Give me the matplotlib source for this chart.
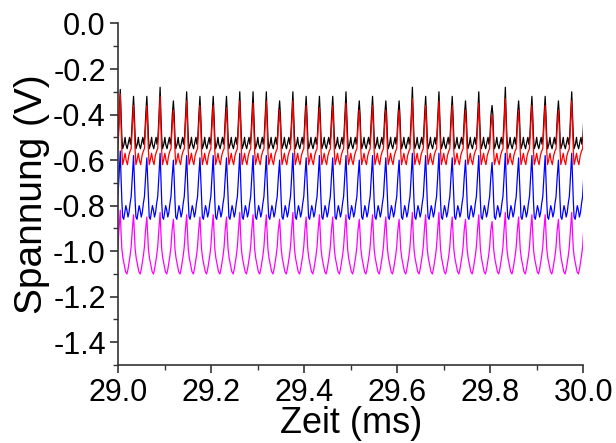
import numpy as np
import matplotlib
matplotlib.use("Agg")
import matplotlib.pyplot as plt
from matplotlib.ticker import MultipleLocator

plt.rcParams['font.family'] = ['Liberation Sans', 'DejaVu Sans']
plt.rcParams['axes.unicode_minus'] = False

# timing of the pulse train (ms)
first_peak = 29.0043 - 0.02855   # one cycle before the first visible peak
period = 0.02855

# one cycle of each trace: phase within the period and voltage (V),
# the value at phase 0 is replaced by the individual peak height
black_phase = [0.00, 0.06, 0.12, 0.18, 0.28, 0.36, 0.42, 0.52, 0.62, 0.70, 0.76, 0.84, 0.92]
black_shape = [None, -0.40, -0.50, -0.55, -0.53, -0.50, -0.53, -0.55, -0.52, -0.50, -0.53, -0.50, -0.40]

red_phase = [0.00, 0.06, 0.12, 0.18, 0.26, 0.36, 0.44, 0.54, 0.64, 0.74, 0.82, 0.90]
red_shape = [None, -0.45, -0.56, -0.62, -0.60, -0.57, -0.60, -0.62, -0.58, -0.56, -0.55, -0.46]

blue_phase = [0.00, 0.06, 0.12, 0.18, 0.26, 0.34, 0.42, 0.50, 0.58, 0.66, 0.74, 0.82, 0.90]
blue_shape = [None, -0.68, -0.78, -0.85, -0.86, -0.83, -0.80, -0.82, -0.85, -0.83, -0.79, -0.76, -0.68]

magenta_phase = [0.00, 0.06, 0.12, 0.20, 0.30, 0.40, 0.50, 0.58, 0.66, 0.74, 0.82, 0.90]
magenta_shape = [None, -0.92, -0.99, -1.03, -1.06, -1.09, -1.10, -1.08, -1.05, -1.02, -0.98, -0.91]

# peak voltage of every cycle (first entry lies before 29.0 ms)
black_peaks = [-0.30, -0.29, -0.32, -0.32, -0.28, -0.34, -0.30, -0.32, -0.32, -0.32,
               -0.30, -0.30, -0.30, -0.34, -0.30, -0.32, -0.32, -0.32, -0.30, -0.34,
               -0.32, -0.34, -0.34, -0.28, -0.32, -0.30, -0.32, -0.34, -0.30, -0.36,
               -0.28, -0.34, -0.32, -0.32, -0.34, -0.30, -0.31]
red_peaks = [-0.33, -0.31, -0.36, -0.36, -0.32, -0.38, -0.34, -0.36, -0.36, -0.37,
             -0.34, -0.35, -0.34, -0.38, -0.34, -0.36, -0.37, -0.36, -0.35, -0.38,
             -0.36, -0.38, -0.38, -0.33, -0.36, -0.34, -0.36, -0.38, -0.35, -0.40,
             -0.33, -0.38, -0.36, -0.36, -0.38, -0.34, -0.35]
blue_peaks = [-0.58, -0.56, -0.58, -0.59, -0.57, -0.60, -0.58, -0.59, -0.58, -0.59,
              -0.57, -0.58, -0.58, -0.60, -0.57, -0.59, -0.58, -0.59, -0.58, -0.60,
              -0.58, -0.59, -0.60, -0.57, -0.58, -0.57, -0.59, -0.60, -0.58, -0.61,
              -0.57, -0.59, -0.58, -0.58, -0.60, -0.57, -0.58]
magenta_peaks = [-0.84, -0.82, -0.84, -0.85, -0.83, -0.86, -0.84, -0.85, -0.84, -0.85,
                 -0.83, -0.84, -0.84, -0.86, -0.83, -0.85, -0.84, -0.85, -0.84, -0.86,
                 -0.84, -0.85, -0.86, -0.83, -0.84, -0.83, -0.85, -0.86, -0.84, -0.87,
                 -0.83, -0.85, -0.84, -0.84, -0.86, -0.83, -0.84]


def build_trace(phases, shape, peaks):
    t, v = [], []
    for k, pk in enumerate(peaks):
        for ph, val in zip(phases, shape):
            t.append(first_peak + (k + ph) * period)
            v.append(pk if val is None else val)
    return np.array(t), np.array(v)


fig = plt.figure(figsize=(6.16, 4.43), dpi=100)
ax = fig.add_axes([0.192, 0.176, 0.755, 0.771])

traces = [
    (black_phase, black_shape, black_peaks, 'black'),
    (red_phase, red_shape, red_peaks, 'red'),
    (blue_phase, blue_shape, blue_peaks, 'blue'),
    (magenta_phase, magenta_shape, magenta_peaks, 'magenta'),
]
for phases, shape, peaks, color in traces:
    t, v = build_trace(phases, shape, peaks)
    ax.plot(t, v, color=color, lw=0.9)

ax.set_xlim(29.0, 30.0)
ax.set_ylim(-1.5, 0.0)
ax.xaxis.set_major_locator(MultipleLocator(0.2))
ax.xaxis.set_minor_locator(MultipleLocator(0.1))
ax.yaxis.set_major_locator(MultipleLocator(0.2))
ax.yaxis.set_minor_locator(MultipleLocator(0.1))
ax.xaxis.set_major_formatter(plt.FormatStrFormatter('%.1f'))
ax.yaxis.set_major_formatter(plt.FormatStrFormatter('%.1f'))

for side in ['top', 'right']:
    ax.spines[side].set_visible(False)
for side in ['left', 'bottom']:
    ax.spines[side].set_linewidth(1.2)
    ax.spines[side].set_color('#333333')

ax.tick_params(which='major', direction='out', length=6, width=1.2,
               labelsize=22, pad=3, color='#333333')
ax.tick_params(which='minor', direction='out', length=3.5, width=1.0, color='#333333')

ax.set_xlabel('Zeit (ms)', fontsize=26, labelpad=-1)
ax.set_ylabel('Spannung (V)', fontsize=28, labelpad=2)

fig.savefig('out.png', dpi=100)
